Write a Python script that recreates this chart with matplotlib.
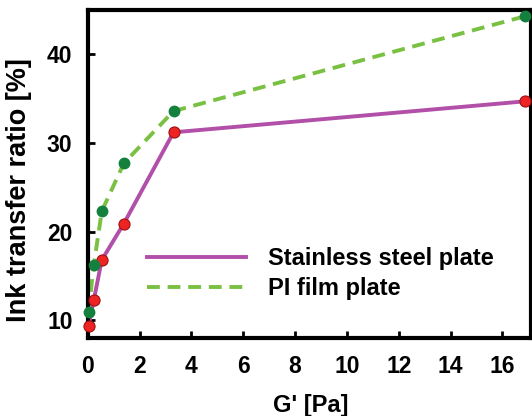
import numpy as np
from matplotlib import pyplot as plt

plt.rcParams['font.family'] = ['Liberation Sans', 'DejaVu Sans']
plt.rcParams['font.weight'] = 'bold'

g_prime = [0.03, 0.23, 0.54, 1.39, 3.31, 16.88]
steel = [9.4, 12.25, 16.8, 20.9, 31.2, 34.7]
pi_film = [10.9, 16.2, 22.3, 27.7, 33.6, 44.3]

fig = plt.figure(figsize=(5.32, 4.16), dpi=100)
ax = fig.add_axes([0.165, 0.1875, 0.833, 0.7885])

ax.plot(g_prime, steel, '-', color='#b24fa8', lw=2.8, label='Stainless steel plate', zorder=2)
ax.plot(g_prime, pi_film, '--', color='#7ac143', lw=2.8, dashes=(3.3, 2), label='PI film plate', zorder=2)
ax.plot(g_prime, steel, 'o', ms=8, mfc='#ee2424', mec='#a01010', mew=0.8, ls='none', zorder=3, clip_on=False)
ax.plot(g_prime, pi_film, 'o', ms=7.5, mfc='#14803e', mec='#14803e', ls='none', zorder=3, clip_on=False)

ax.set_xlim(0, 17.1)
ax.set_ylim(8, 45)
ax.set_xticks(np.arange(0, 17, 2))
ax.set_yticks([10, 20, 30, 40])
ax.tick_params(direction='in', length=5, width=2, labelsize=16.5)
ax.tick_params(axis='y', pad=11)
ax.tick_params(axis='x', pad=12)
for s in ax.spines.values():
    s.set_linewidth(3)
ax.set_xlabel("G' [Pa]", fontsize=17, fontweight='bold')
ax.set_ylabel('Ink transfer ratio [%]', fontsize=19.5, fontweight='bold')
ax.xaxis.set_label_coords(0.503, -0.17)
ax.yaxis.set_label_coords(-0.125, 0.45)

ax.legend(loc='upper left', bbox_to_anchor=(0.112, 0.305), frameon=False, fontsize=17,
          handlelength=4.2, handletextpad=0.95, labelspacing=0.3, borderaxespad=0)

fig.savefig('out.png', dpi=100)
